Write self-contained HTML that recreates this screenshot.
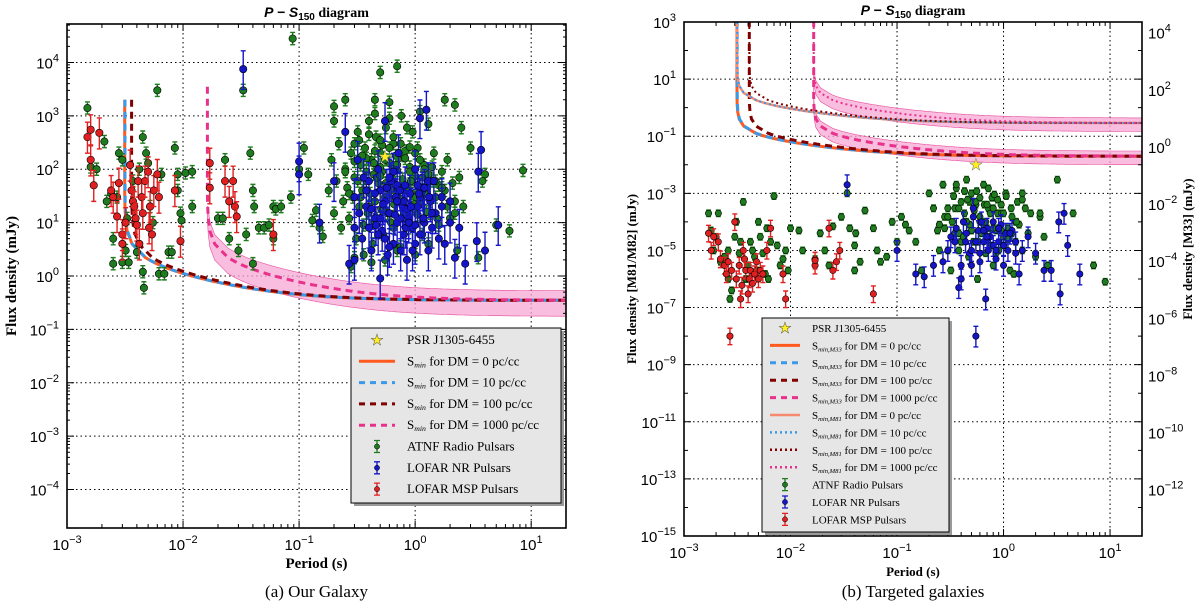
<!DOCTYPE html>
<html><head><meta charset="utf-8">
<style>
html,body{margin:0;padding:0;background:#fff;}
svg{display:block;}
text{font-family:"Liberation Serif",serif;}
.tick{font-family:"Liberation Sans",sans-serif;font-size:15px;}
</style></head>
<body>
<svg id="fig" width="1200" height="614" viewBox="0 0 1200 614" xmlns="http://www.w3.org/2000/svg">
<rect x="0" y="0" width="1200" height="614" fill="#fff"/>
</svg>
<script>
// ===== Panel (a) data: Our Galaxy =====
const atnfP = [0.0015,0.0016,0.0018,0.0021,0.0022,0.0024,0.0025,0.0025,0.0027,0.0028,0.003,0.003,0.0032,0.0033,0.0034,0.0037,0.004,0.0042,0.0045,0.0045,0.0046,0.0048,0.005,0.0052,0.0055,0.006,0.0062,0.0065,0.0069,0.0075,0.008,0.0085,0.009,0.009,0.0095,0.0097,0.0105,0.012,0.012,0.02,0.022,0.023,0.025,0.03,0.033,0.035,0.038,0.04,0.04,0.041,0.045,0.05,0.055,0.06,0.06,0.063,0.07,0.085,0.088,0.1,0.11,0.12,0.13,0.14,0.15,0.16,0.2,0.2,0.25,0.3,0.5,0.7,8.5,6.5,5,4,3.8,3.5,3,2.5,2.2,1.8,0.6,0.45,
0.18,0.19,0.2,0.21,0.22,0.23,0.24,0.25,0.26,0.27,0.28,0.29,0.3,0.31,0.32,0.33,0.34,0.35,0.36,0.37,0.38,0.39,0.4,0.41,0.42,0.43,0.44,0.45,0.46,0.47,0.48,0.5,0.51,0.52,0.53,0.55,0.56,0.58,0.6,0.62,0.63,0.65,0.66,0.68,0.7,0.72,0.74,0.76,0.78,0.8,0.82,0.85,0.88,0.9,0.93,0.95,0.98,1.0,1.05,1.1,1.15,1.2,1.25,1.3,1.35,1.4,1.45,1.5,1.6,1.7,1.8,1.9,2.0,2.1,2.2,2.3,2.4,2.6,0.36,0.28,0.42,0.55,0.75,1.0,1.3,0.33,0.45,0.6,0.85,1.1,0.38,0.52,0.68,0.9,0.25,0.3,0.5,0.62,0.8,1.2,0.47,0.58,0.7,0.95,1.4,1.6,0.34,0.43,0.65,1.05,
0.3,0.35,0.4,0.45,0.5,0.55,0.6,0.65,0.7,0.75,0.8,0.9,1.0,1.1,1.2,1.3,1.5,1.7,0.32,0.38,0.44,0.5,0.56,0.64,0.72,0.82,0.92,1.02,1.15,1.35,0.27,0.4,0.53,0.66,0.78,0.98,1.25,1.55,1.9,2.2];
const atnfS = [1400,110,100,330,25,35,1.7,5,30,200,1.8,150,3,12,1.8,60,2.8,100,400,1.2,0.6,200,130,20,10,3000,1.1,80,1.1,2.8,2.8,250,80,40,15,11,85,90,20,12,12,150,5,3,3000,6,200,40,1.7,20,8,8,9,5,20,18,20,30,28000,100,250,80,11,17,8,5.5,800,1500,2000,2.2,6500,8500,95,7,9,80,60,2.2,250,600,1600,2000,1800,2000,
40,150,15,60,300,8,25,100,45,12,200,30,70,5,500,20,120,40,9,250,60,15,800,35,150,4,80,25,400,12,55,200,18,90,6,30,600,45,130,10,70,300,22,50,3,160,28,1000,65,14,220,40,8,110,35,500,18,75,250,25,6,120,45,700,15,60,200,30,9,90,40,150,12,55,25,3,70,20,2.5,1.5,1.8,2,3.5,2.5,4,350,1100,900,600,1200,160,280,180,260,90,140,110,40,50,35,70,15,95,65,110,50,30,10,8,14,
300,180,450,220,350,150,250,400,120,300,180,90,200,150,100,80,60,45,60,90,130,75,55,100,40,160,60,30,70,25,35,20,18,28,45,22,16,12,20,15];
const nrP = [0.033,0.1,0.1,0.15,0.2,0.25,0.27,0.3,0.3,0.32,0.35,0.38,0.4,0.42,0.45,0.48,0.5,0.5,0.52,0.55,0.55,0.58,0.6,0.62,0.65,0.68,0.7,0.72,0.75,0.78,0.8,0.82,0.85,0.88,0.9,0.95,1.0,1.0,1.05,1.1,1.1,1.15,1.2,1.25,1.3,1.35,1.4,1.5,1.6,1.7,1.8,2.0,2.2,2.4,2.7,3.4,3.7,3.5,4.0,5.2,0.3,0.4,0.45,0.6,0.7,0.85,0.95,1.2,1.4,0.36,0.5,0.65,0.8,1.0,1.3,2.0,0.42,0.55,0.75,1.1,
0.33,0.38,0.46,0.53,0.6,0.67,0.74,0.83,0.92,1.05,1.18,1.32,1.45,1.7,0.48,0.57,0.7,0.88,1.08];
const nrS = [7500,140,80,10,60,500,1.7,8,30,150,5,20,60,3,12,100,0.9,40,7,800,25,2.5,15,60,4,30,10,200,3,20,6,50,2,12,35,8,100,4,20,900,6,40,10,1300,3,25,8,15,5,30,4,10,2.2,8,1.7,4.5,230,90,3,9,2,8,35,3.5,50,18,3,45,15,70,12,90,25,9,60,25,18,5,12,30,
15,40,9,22,70,14,40,8,20,50,12,30,60,20,6,45,25,10,35];
const mspP = [0.0015,0.0016,0.0016,0.0017,0.0019,0.0024,0.0025,0.0027,0.0028,0.003,0.003,0.0032,0.0035,0.0036,0.0037,0.0038,0.0039,0.004,0.0041,0.0042,0.0044,0.0045,0.0047,0.005,0.0051,0.0052,0.0054,0.0056,0.006,0.0062,0.0085,0.0095,0.017,0.017,0.023,0.025,0.027,0.028,0.029,0.06];
const mspS = [400,550,150,50,480,40,30,13,55,6,4,10,120,40,25,20,12,9,60,4,30,15,60,90,8,20,6,40,80,30,40,4.5,45,130,60,25,60,20,13,6];
const starA = [0.55,170];

// ===== Panel (b) data: Targeted galaxies =====
const gATNFP = [0.0017,0.0018,0.0019,0.002,0.0021,0.0022,0.0024,0.0026,0.0026,0.0027,0.0028,0.003,0.0031,0.0033,0.0034,0.0036,0.0038,0.004,0.0042,0.0044,0.0046,0.0048,0.005,0.0052,0.0055,0.0058,0.006,0.0062,0.0065,0.007,0.0075,0.008,0.0085,0.009,0.0095,0.01,
0.012,0.013,0.017,0.019,0.021,0.023,0.025,0.03,0.034,0.036,0.04,0.04,0.041,0.045,0.05,0.06,0.065,0.07,0.08,0.09,0.1,0.11,0.12,0.13,0.15,0.17,
0.2,0.22,0.24,0.25,0.27,0.28,0.3,0.32,0.33,0.35,0.36,0.38,0.4,0.42,0.43,0.45,0.47,0.48,0.5,0.52,0.55,0.57,0.6,0.62,0.65,0.68,0.7,0.72,0.75,0.78,0.8,0.85,0.88,0.9,0.95,1.0,1.05,1.1,1.15,1.2,1.3,1.35,1.4,1.5,1.6,1.7,1.8,2.0,2.2,2.4,2.6,3.2,4.5,7,9,0.3,0.4,0.5,0.6,0.7,0.8,1.0,1.2,0.35,0.45,0.55,0.65,0.75,0.9,1.1,1.3,0.28,0.38,0.48,0.58,0.68,0.85,1.0,1.25,2.2,0.25,0.42,0.62,0.95,1.5,
0.3,0.34,0.38,0.43,0.48,0.53,0.6,0.66,0.72,0.8,0.88,0.96,1.06,1.18,1.32,1.5,0.36,0.46,0.56,0.7,0.82,1.0,1.2];
const gATNFS = [2e-4,5e-5,1e-5,3e-5,2e-4,4e-6,6e-6,1e-6,1e-5,2e-7,4e-7,3e-5,1e-4,8e-6,2e-5,5e-4,1e-6,3e-6,2e-5,1e-5,6e-6,2e-6,1e-4,3e-5,8e-6,1.5e-6,6e-5,1e-6,2e-5,8e-4,1.5e-5,3e-6,5e-6,1e-5,2e-6,6e-5,
5e-5,1e-5,5e-6,4e-5,1e-5,3e-6,7e-5,1.5e-4,1e-3,6e-5,1.5e-5,2e-6,4e-5,4e-6,2.5e-4,6e-5,1e-5,4e-6,6e-6,1e-4,2e-5,1.5e-4,8e-5,5e-5,2e-5,2e-6,
1e-3,3e-4,5e-5,1e-5,2e-3,6e-5,3e-4,2e-6,1e-4,4e-5,1.5e-3,1e-5,5e-4,3e-5,2e-4,3e-3,6e-6,8e-5,1e-3,2e-5,4e-4,1e-6,1.5e-4,4e-5,2e-3,8e-6,6e-5,3e-4,1.5e-5,7e-4,3e-6,5e-5,2e-4,1e-5,4e-4,3e-5,1e-3,6e-5,2e-6,1.5e-4,2e-5,5e-4,8e-5,1e-5,3e-4,4e-5,2e-4,6e-6,1.5e-4,3e-5,3e-6,3e-3,2e-4,3e-6,8e-7,1e-5,2e-5,5e-5,1e-4,3e-5,6e-5,1.5e-5,4e-5,3e-4,1e-4,5e-4,8e-5,2e-4,6e-5,2.5e-5,1e-4,1.5e-4,4e-5,6e-4,2e-5,1e-4,8e-6,4e-5,1.5e-6,2e-4,8e-5,3e-5,1e-4,5e-5,
6e-4,1.5e-4,8e-4,3e-4,1.2e-3,5e-4,2.5e-4,7e-4,4e-4,1.5e-3,3e-4,6e-4,2e-4,8e-4,3e-4,1e-4,1e-3,2e-3,6e-4,1.2e-3,4e-4,9e-4,2e-4];
const gNRP = [0.034,0.1,0.15,0.18,0.22,0.27,0.3,0.32,0.35,0.38,0.4,0.42,0.45,0.48,0.5,0.52,0.55,0.55,0.58,0.6,0.62,0.65,0.68,0.7,0.72,0.75,0.8,0.85,0.9,0.95,1.0,1.05,1.1,1.2,1.3,1.4,1.5,1.7,2.0,2.4,2.8,3.3,3.4,3.7,4.0,5.2,0.36,0.44,0.52,0.6,0.7,0.8,0.9,1.0,1.15,1.3,0.4,0.5,0.65,0.85];
const gNRS = [2e-3,1e-5,1.5e-6,1.2e-6,3e-6,4e-6,1e-5,3e-5,2e-5,5e-7,3e-6,1e-4,4e-5,8e-6,1e-5,3e-4,1e-8,2e-5,5e-5,4e-6,1e-4,2e-5,2e-7,6e-5,1e-5,3e-5,1.5e-5,5e-6,2e-5,8e-5,3e-6,4e-5,1e-5,5e-5,2e-5,1.5e-6,1e-5,3e-5,8e-6,2e-6,2e-6,1e-4,3e-7,2e-4,1.5e-5,1.5e-6,6e-5,2e-5,1.5e-4,8e-6,3e-5,1e-4,6e-5,1.5e-5,4e-5,8e-6,1e-6,3e-6,5e-5,1e-5];
const gMSPP = [0.0017,0.0018,0.0019,0.0021,0.0022,0.0024,0.0025,0.0026,0.0027,0.0028,0.003,0.0031,0.0033,0.0034,0.0035,0.0036,0.0037,0.0038,0.004,0.0041,0.0042,0.0044,0.0046,0.0048,0.005,0.0052,0.0055,0.006,0.0065,0.0085,0.009,0.017,0.017,0.023,0.025,0.027,0.029,0.06];
const gMSPS = [4e-5,1e-5,3e-5,2e-5,5e-6,3e-6,1.5e-6,4e-6,1e-8,2e-6,1e-4,1e-6,3e-6,2e-7,6e-7,1e-5,5e-6,2e-6,3e-7,1e-6,2e-6,7e-7,1.5e-6,4e-6,1e-6,2e-6,1.5e-6,1e-5,6e-5,1.5e-6,2e-7,3e-6,4.5e-6,6e-5,2e-6,4e-6,1e-5,3e-7];
const starB = [0.55,0.01];

// Sensitivity curve parameters (model)
const dmLabels = [0, 10, 100, 1000];
const dmWidthA = [0.00314, 0.00316, 0.0036, 0.0162];
const dmWidthB = [0.00314, 0.00316, 0.0041, 0.0165];
const capA = [2000, 2000, 2000, 3500];
const capB = [1e6, 1e6, 1e6, 1e6];
const plateauA = 0.35, plateauM33 = 0.02, plateauM81 = 0.29;

const svg = document.getElementById('fig');
const NS = 'http://www.w3.org/2000/svg';
function mk(tag, attrs, parent) {
  const e = document.createElementNS(NS, tag);
  for (const k in attrs) e.setAttribute(k, attrs[k]);
  (parent || svg).appendChild(e);
  return e;
}
function logAxis(lo, hi, p0, p1) {
  return v => p0 + (Math.log10(v) - lo) / (hi - lo) * (p1 - p0);
}
function sminCurve(P, W, plateau) {
  const d = 0.05, C = plateau / Math.sqrt(d / (1 - d));
  const w = d * P + W * (1 - d);
  const r = P - w;
  if (r <= 0) return Infinity;
  return C * Math.sqrt(w / r);
}
function supLabel(g, x, y, exp, anchor) {
  const t = mk('text', {x: x, y: y, 'text-anchor': anchor, class: 'tick', fill: '#000'}, g);
  
  
  const a = mk('tspan', {}, t); a.textContent = '10';
  const b = mk('tspan', {dy: -7, 'font-size': 11}, t); b.textContent = exp < 0 ? '\u2212' + (-exp) : String(exp);
  return t;
}

function panel(cfg) {
  const g = mk('g', {});
  
  
  const {L, R, T, B} = cfg;
  const X = logAxis(cfg.xlo, cfg.xhi, L, R);
  const Y = logAxis(cfg.ylo, cfg.yhi, B, T);
  const clip = 'clip-' + cfg.name;
  const cp = mk('clipPath', {id: clip}, g);
  mk('rect', {x: L, y: T, width: R - L, height: B - T}, cp);
  for (let e = Math.ceil(cfg.xlo); e <= cfg.xhi; e++) {
    if (X(Math.pow(10, e)) <= L + 1) continue;
    const l = mk('line', {x1: X(Math.pow(10, e)), x2: X(Math.pow(10, e)), y1: T, y2: B, stroke: '#000', 'stroke-width': 1, 'stroke-dasharray': '1.5,3'}, g);
    
    
  }
  for (const e of cfg.ygrid) {
    const l = mk('line', {x1: L, x2: R, y1: Y(Math.pow(10, e)), y2: Y(Math.pow(10, e)), stroke: '#000', 'stroke-width': 1, 'stroke-dasharray': '1.5,3'}, g);
    
    
  }
  const plot = mk('g', {'clip-path': 'url(#' + clip + ')'}, g);
  
  
  function periods(W) {
    const out = [];
    for (let k = 8; k >= 0; k--) out.push(W * (1 + Math.pow(10, -k * 0.5) * 0.5));
    for (let i = 0; i <= 500; i++) {
      const P = Math.pow(10, cfg.xlo + (cfg.xhi - cfg.xlo) * i / 500);
      if (P > out[out.length - 1]) out.push(P);
    }
    return out;
  }
  function curvePath(W, plat, cap) {
    const Ps = periods(W);
    let d = 'M' + X(Ps[0]).toFixed(1) + ',' + Math.max(Y(cap), T - 50).toFixed(1);
    for (const P of Ps) {
      const s = Math.min(sminCurve(P, W, plat), cap);
      d += 'L' + X(P).toFixed(1) + ',' + Math.max(Y(s), T - 50).toFixed(1);
    }
    return d;
  }
  function band(W, plat) {
    const Ps = periods(W);
    let up = [], dn = [];
    for (const P of Ps) {
      const s = sminCurve(P, W, plat);
      up.push(X(P).toFixed(1) + ',' + Math.max(Y(Math.min(s * 1.5, 20)), T - 50).toFixed(1));
      dn.push(X(P).toFixed(1) + ',' + Math.max(Y(Math.min(s / 2.0, 10)), T - 50).toFixed(1));
    }
    const b = mk('polygon', {points: up.concat(dn.reverse()).join(' '), fill: '#f7a8d4', 'fill-opacity': 0.75, stroke: '#e84a9a', 'stroke-width': 0.6}, plot);
    
    
  }
  for (const plat of cfg.plateaus) band(cfg.widths[3], plat);
  const styles = [
    {c: '#ff5a1f', dash: null, w: 3},
    {c: '#3a9ae8', dash: '7,5', w: 3},
    {c: '#800000', dash: '7,5', w: 3},
    {c: '#e8318a', dash: '7,5', w: 3}
  ];
  const styles2 = [
    {c: '#f58a70', dash: null, w: 2.5},
    {c: '#3a9ae8', dash: '2,3', w: 2},
    {c: '#800000', dash: '2,3', w: 2},
    {c: '#e8318a', dash: '2,3', w: 2}
  ];
  cfg.plateaus.forEach((plat, pi) => {
    const st = pi === 0 ? styles : styles2;
    dmLabels.forEach((dm, i) => {
      const p = mk('path', {d: curvePath(cfg.widths[i], plat, cfg.caps[i]), fill: 'none', stroke: st[i].c, 'stroke-width': st[i].w}, plot);
      if (st[i].dash) p.setAttribute('stroke-dasharray', st[i].dash);
      
      
    });
  });
  function scatter(P, S, col, ecol, errUp, errDn, r, nm) {
    P.forEach((p, i) => {
      const x = X(p), y = Y(S[i]);
      const eb = mk('path', {d: `M${x},${Y(S[i] * errUp)}V${Y(S[i] / errDn)}M${x - 2.5},${Y(S[i] * errUp)}h5M${x - 2.5},${Y(S[i] / errDn)}h5`, stroke: ecol, 'stroke-width': 1.4, fill: 'none'}, plot);
      
      
      const c = mk('circle', {cx: x, cy: y, r: r, fill: col, stroke: '#000', 'stroke-width': 0.6}, plot);
      
      
    });
  }
  scatter(cfg.gP, cfg.gS, '#1e7b1e', '#1e7b1e', 1.3, 1.3, cfg.r, 'atnf');
  scatter(cfg.bP, cfg.bS, '#1515c8', '#1515c8', 2.2, 2.4, cfg.r, 'lofar-nr');
  scatter(cfg.rP, cfg.rS, '#e02020', '#e02020', 1.9, 2.0, cfg.r, 'lofar-msp');
  const sx = X(cfg.star[0]), sy = Y(cfg.star[1]);
  const star = mk('text', {x: sx, y: sy + 5, 'text-anchor': 'middle', 'font-size': 16, fill: '#ffef20', stroke: '#777', 'stroke-width': 0.5, 'font-family': 'DejaVu Sans'}, plot);
  star.textContent = '\u2605';
  
  
  const fr = mk('rect', {x: L, y: T, width: R - L, height: B - T, fill: 'none', stroke: '#000', 'stroke-width': 1.6}, g);
  
  
  let tk = '';
  for (let e = Math.floor(cfg.xlo); e <= cfg.xhi; e++) for (let m = 1; m < 10; m++) {
    const v = m * Math.pow(10, e); const x = X(v);
    if (x < L || x > R) continue;
    const len = m === 1 ? 7 : 4;
    tk += `M${x},${B}v${-len}M${x},${T}v${len}`;
  }
  for (let e = Math.floor(cfg.ylo); e <= cfg.yhi; e++) {
    const y = Y(Math.pow(10, e)); if (y < T || y > B) continue;
    const len = cfg.ygrid.includes(e) ? 7 : 4;
    tk += `M${L},${y}h${len}M${R},${y}h${-len}`;
    if (cfg.minorY) for (let m = 2; m < 10; m++) {
      const y2 = Y(m * Math.pow(10, e)); if (y2 < T || y2 > B) continue;
      tk += `M${L},${y2}h3M${R},${y2}h-3`;
    }
  }
  const tp = mk('path', {d: tk, stroke: '#000', 'stroke-width': 1, fill: 'none'}, g);
  
  
  for (let e = Math.ceil(cfg.xlo); e <= cfg.xhi; e++) supLabel(g, X(Math.pow(10, e)), B + 22, e, 'middle');
  for (const e of cfg.ylabels) supLabel(g, L - 8, Y(Math.pow(10, e)) + 6, e, 'end');
  if (cfg.rlabels) for (const e of cfg.rlabels) supLabel(g, R + 6, Y(Math.pow(10, e - cfg.roffset)) + 11, e, 'start');
  const xt = mk('text', {x: (L + R) / 2, y: B + 40, 'text-anchor': 'middle', 'font-size': cfg.axfs, 'font-weight': 'bold'}, g);
  xt.textContent = 'Period (s)';
   
  const yt = mk('text', {x: 0, y: 0, 'text-anchor': 'middle', 'font-size': cfg.axfs, 'font-weight': 'bold', transform: `translate(${cfg.ytx},${(T + B) / 2}) rotate(-90)`}, g);
  yt.textContent = cfg.ytitle;
   
  if (cfg.rtitle) {
    const rt = mk('text', {x: 0, y: 0, 'text-anchor': 'middle', 'font-size': cfg.axfs, 'font-weight': 'bold', transform: `translate(${cfg.rtx},${(T + B) / 2 - 30}) rotate(-90)`}, g);
    rt.textContent = cfg.rtitle;
     
  }
  const tt = mk('text', {x: (L + R) / 2, y: T - 7, 'text-anchor': 'middle', 'font-size': 14, 'font-weight': 'bold'}, g);
   
  const t1 = mk('tspan', {'font-style': 'italic', 'font-family': 'Liberation Sans'}, tt); t1.textContent = 'P \u2212 S';
  const t2 = mk('tspan', {'font-size': 10, dy: 3, 'font-family': 'Liberation Sans'}, tt); t2.textContent = '150';
  const t3 = mk('tspan', {dy: -3}, tt); t3.textContent = ' diagram';
  const cap = mk('text', {x: (L + R) / 2, y: 597, 'text-anchor': 'middle', 'font-size': 17}, g);
  cap.textContent = cfg.caption;
   
  const lg = cfg.legend;
  const lgG = mk('g', {}, g);
   
  mk('rect', {x: lg.x + 3, y: lg.y + 3, width: lg.w, height: lg.h, fill: '#9a9a9a'}, lgG);
  mk('rect', {x: lg.x, y: lg.y, width: lg.w, height: lg.h, fill: '#e6e6e6', stroke: '#000', 'stroke-width': 1}, lgG);
  lg.items.forEach((it, i) => {
    const y = lg.y + lg.pad + i * lg.dy;
    const e = mk('g', {}, lgG);
     
    const hx = lg.x + 8, hw = lg.hw;
    if (it.type === 'star') {
      const s = mk('text', {x: hx + hw / 2, y: y + 5, 'text-anchor': 'middle', 'font-size': 15, fill: '#ffef20', stroke: '#555', 'stroke-width': 0.5, 'font-family': 'DejaVu Sans'}, e);
      s.textContent = '\u2605';
    } else if (it.type === 'line') {
      const l = mk('line', {x1: hx, x2: hx + hw, y1: y, y2: y, stroke: it.c, 'stroke-width': it.w}, e);
      if (it.dash) l.setAttribute('stroke-dasharray', it.dash);
    } else {
      mk('path', {d: `M${hx + hw / 2},${y - 6}V${y + 6}M${hx + hw / 2 - 3},${y - 6}h6M${hx + hw / 2 - 3},${y + 6}h6`, stroke: it.c, 'stroke-width': 1.3}, e);
      mk('circle', {cx: hx + hw / 2, cy: y, r: 2.6, fill: it.c, stroke: '#000', 'stroke-width': 0.5}, e);
    }
    const t = mk('text', {x: hx + hw + 12, y: y + 4, 'font-size': lg.fs}, e);
    if (it.sub) {
      const a = mk('tspan', {}, t); a.textContent = 'S';
      const b = mk('tspan', {'font-size': lg.fs * 0.6, dy: 2, 'font-style': 'italic'}, t); b.textContent = it.sub;
      const c = mk('tspan', {dy: -2}, t); c.textContent = ' ' + it.label;
    } else t.textContent = it.label;
  });
}

const lineItems = (sub, set2) => dmLabels.map((dm, i) => ({
  type: 'line', sub: sub, label: 'for DM = ' + dm + ' pc/cc',
  c: [set2 ? '#f58a70' : '#ff5a1f', '#3a9ae8', '#800000', '#e8318a'][i],
  w: set2 ? 2.5 : 3, dash: i === 0 ? null : (set2 ? '2,3' : '6,5')
}));
const ptItems = [
  {type: 'pt', c: '#1e7b1e', label: 'ATNF Radio Pulsars'},
  {type: 'pt', c: '#1515c8', label: 'LOFAR NR Pulsars'},
  {type: 'pt', c: '#e02020', label: 'LOFAR MSP Pulsars'}
];

panel({
  name: 'panel-our-galaxy', L: 67, R: 566, T: 24, B: 528,
  xlo: -3, xhi: 1.3, ylo: -4.72, yhi: 4.72,
  ygrid: [-4, -3, -2, -1, 0, 1, 2, 3, 4], ylabels: [-4, -3, -2, -1, 0, 1, 2, 3, 4], minorY: true,
  widths: dmWidthA, caps: capA, plateaus: [plateauA], r: 3.7,
  gP: atnfP, gS: atnfS, bP: nrP, bS: nrS, rP: mspP, rS: mspS, star: starA,
  axfs: 15, ytx: 16, ytitle: 'Flux density (mJy)', caption: '(a)  Our Galaxy',
  legend: {x: 351, y: 328, w: 210, h: 175, pad: 12, dy: 21.3, hw: 36, fs: 13,
    items: [{type: 'star', label: 'PSR J1305-6455'}].concat(lineItems('min', false)).concat(ptItems)}
});
panel({
  name: 'panel-targeted-galaxies', L: 684, R: 1142, T: 22, B: 536,
  xlo: -3, xhi: 1.3, ylo: -15, yhi: 3,
  ygrid: [-15, -13, -11, -9, -7, -5, -3, -1, 1, 3], ylabels: [-15, -13, -11, -9, -7, -5, -3, -1, 1, 3], minorY: false,
  rlabels: [4, 2, 0, -2, -4, -6, -8, -10, -12], roffset: 1.2,
  widths: dmWidthB, caps: capB, plateaus: [plateauM33, plateauM81], r: 3.2,
  gP: gATNFP, gS: gATNFS, bP: gNRP, bS: gNRS, rP: gMSPP, rS: gMSPS, star: starB,
  axfs: 13, ytx: 636, ytitle: 'Flux density [M81/M82] (mJy)', rtitle: 'Flux density [M33] (mJy)', rtx: 1192,
  caption: '(b)  Targeted galaxies',
  legend: {x: 762, y: 318, w: 187, h: 214, pad: 10, dy: 17.4, hw: 30, fs: 11,
    items: [{type: 'star', label: 'PSR J1305-6455'}].concat(lineItems('min,M33', false)).concat(lineItems('min,M81', true)).concat(ptItems)}
});
</script>
</body></html>
